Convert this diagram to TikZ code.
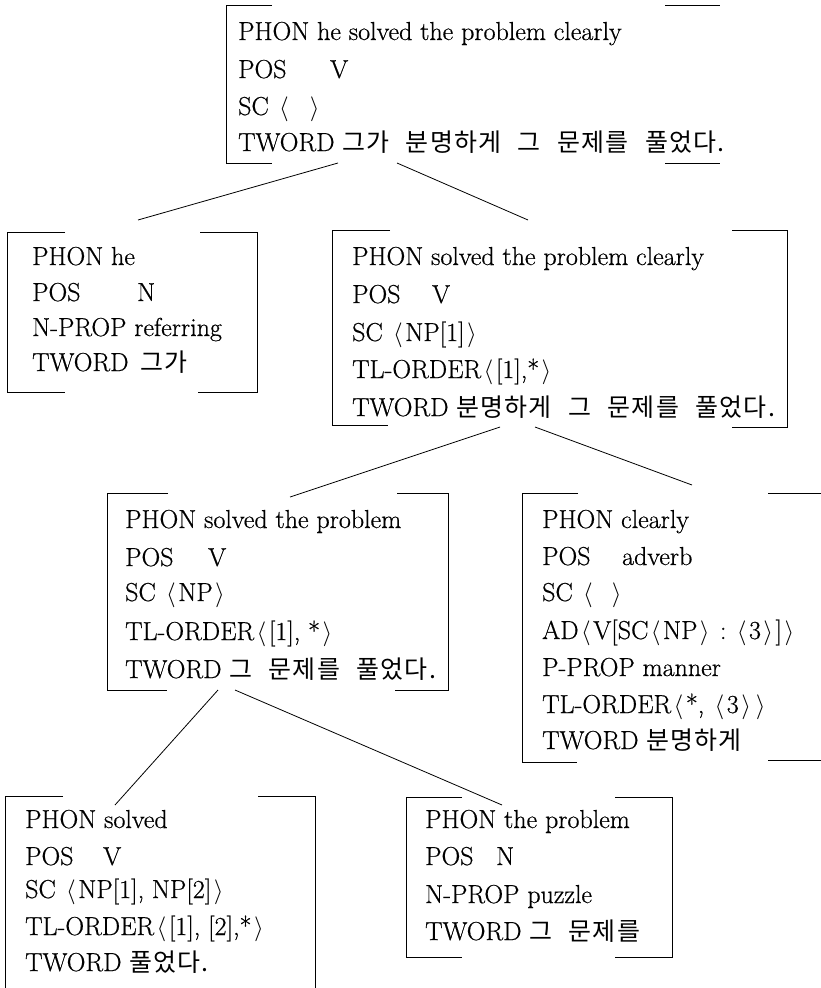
\documentclass[tikz,border=0pt]{standalone}
\usepackage{fontspec}
\setmainfont{Latin Modern Roman}[FakeBold=0.6]
\newfontfamily\kr[Scale=0.96,WordSpace=2.4,LetterSpace=5]{Noto Sans CJK KR}
\newcommand\fs{\fontsize{26}{30}\selectfont}
\newcommand\lab{\kern2.5pt$\langle$\kern2.5pt}
\newcommand\rab{\kern2.5pt$\rangle$\kern2.5pt}
\tikzset{
  bracket/.style={line width=0.8pt},
  conn/.style={line width=0.8pt},
  row/.style={anchor=base west, inner sep=0pt, font=\fs},
}
\begin{document}
\begin{tikzpicture}[x=1pt,y=-1pt]
\useasboundingbox (0,0) rectangle (821,988);

% ---- top sign: he solved the problem clearly
\draw[bracket] (272,5) -- (226,5) -- (226,163) -- (272,163);
\draw[bracket] (665,5) -- (720,5);
\draw[bracket] (665,163) -- (720,163);
\node[row] (A1) at (238,40)  {PHON he solved the problem clearly};
\node[row] (A2) at (238,78)  {\makebox[92pt][l]{POS}V};
\node[row] (A3) at (238,115) {SC \lab\hspace{16pt}\rab};
\node[row] (A4) at (238,151) {TWORD {\kr 그가 분명하게 그 문제를 풀었다.}};

% ---- he
\draw[bracket] (65,232) -- (7,232) -- (7,392) -- (65,392);
\draw[bracket] (200,232) -- (257,232) -- (257,392) -- (198,392);
\node[row] (B1) at (32,265) {PHON he};
\node[row] (B2) at (32,301) {\makebox[105pt][l]{POS}N};
\node[row] (B3) at (32,336) {N-PROP referring};
\node[row] (B4) at (32,371) {TWORD\hspace{12pt}{\kr 그가}};

% ---- solved the problem clearly
\draw[bracket] (390,230) -- (332,230) -- (332,425) -- (388,425);
\draw[bracket] (732,230) -- (787,230) -- (787,427) -- (732,427);
\node[row] (C1) at (352,265) {PHON solved the problem clearly};
\node[row] (C2) at (352,303) {\makebox[80pt][l]{POS}V};
\node[row] (C3) at (352,341) {SC \lab NP[1]\rab};
\node[row] (C4) at (352,378) {TL-ORDER\lab[1],*\rab};
\node[row] (C5) at (352,416) {TWORD {\kr 분명하게 그 문제를 풀었다.}};

% ---- solved the problem
\draw[bracket] (168,493) -- (107,493) -- (107,690) -- (167,690);
\draw[bracket] (397,493) -- (448,493) -- (448,690) -- (395,690);
\node[row] (D1) at (125,528) {PHON solved the problem};
\node[row] (D2) at (125,566) {\makebox[83pt][l]{POS}V};
\node[row] (D3) at (125,601) {SC \lab NP\rab};
\node[row] (D4) at (125,640) {TL-ORDER\lab[1], *\rab};
\node[row] (D5) at (125,678) {TWORD {\kr 그 문제를 풀었다.}};

% ---- clearly
\draw[bracket] (578,493) -- (522,493) -- (522,762) -- (577,762);
\draw[bracket] (768,493) -- (821,493);
\draw[bracket] (768,760) -- (821,760);
\node[row] (E1) at (542,528) {PHON clearly};
\node[row] (E2) at (542,565) {\makebox[80pt][l]{POS}adverb};
\node[row] (E3) at (542,601) {SC \lab\hspace{14pt}\rab};
\node[row] (E4) at (542,639) {AD\lab V[SC\lab NP\rab\ :\ \lab 3\rab]\rab};
\node[row] (E5) at (542,676) {P-PROP manner};
\node[row] (E6) at (542,713) {TL-ORDER\lab *, \lab 3\rab\rab};
\node[row] (E7) at (542,749) {TWORD {\kr 분명하게}};

% ---- solved
\draw[bracket] (63,796) -- (5,796) -- (5,988);
\draw[bracket] (258,796) -- (315,796) -- (315,988);
\node[row] (F1) at (25,828) {PHON solved};
\node[row] (F2) at (25,865) {\makebox[78pt][l]{POS}V};
\node[row] (F3) at (25,898) {SC \lab NP[1], NP[2]\rab};
\node[row] (F4) at (25,935) {TL-ORDER\lab[1], [2],*\rab};
\node[row] (F5) at (25,971) {TWORD {\kr 풀었다.}};

% ---- the problem
\draw[bracket] (462,797) -- (406,797) -- (406,957) -- (462,957);
\draw[bracket] (615,797) -- (672,797) -- (672,957) -- (615,957);
\node[row] (G1) at (425,828) {PHON the problem};
\node[row] (G2) at (425,865) {\makebox[71pt][l]{POS}N};
\node[row] (G3) at (425,903) {N-PROP puzzle};
\node[row] (G4) at (425,940) {TWORD {\kr 그 문제를}};

% ---- tree branches
\coordinate (A-left)  at (338,163);
\coordinate (A-right) at (397,163);
\coordinate (B-top)   at (138,220);
\coordinate (C-top)   at (528,220);
\coordinate (C-left)  at (500,427);
\coordinate (C-right) at (535,427);
\coordinate (D-top)   at (290,497);
\coordinate (E-top)   at (692,485);
\coordinate (D-left)  at (218,690);
\coordinate (D-right) at (235,690);
\coordinate (F-top)   at (115,805);
\coordinate (G-top)   at (502,805);

\draw[conn] (A-left) -- (B-top);
\draw[conn] (A-right) -- (C-top);
\draw[conn] (C-left) -- (D-top);
\draw[conn] (C-right) -- (E-top);
\draw[conn] (D-left) -- (F-top);
\draw[conn] (D-right) -- (G-top);
\end{tikzpicture}
\end{document}
